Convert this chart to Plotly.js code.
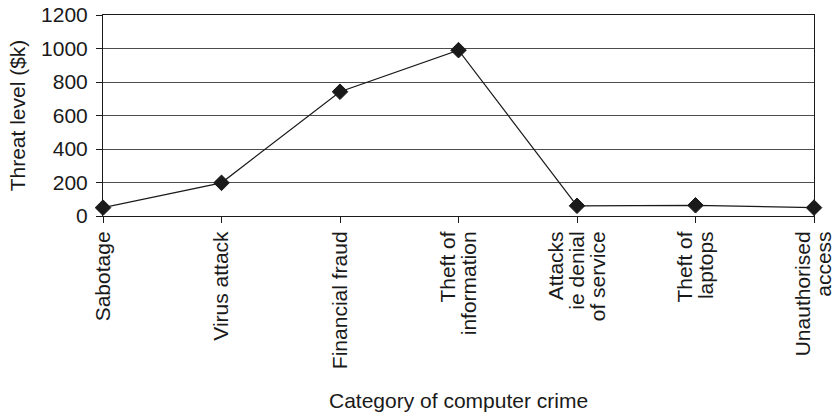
<!DOCTYPE html>
<html>
<head>
<meta charset="utf-8">
<script src="https://cdn.plot.ly/plotly-3.0.1.min.js"></script>
<style>
  html, body { margin: 0; padding: 0; background: #fff; }
  #chart { width: 835px; height: 414px; }
</style>
</head>
<body>
<div id="chart"></div>
<script>
// Crime categories along the x axis (line breaks as printed)
const categories = [
  "Sabotage",
  "Virus attack",
  "Financial fraud",
  "Theft of<br>information",
  "Attacks<br>ie denial<br>of service",
  "Theft of<br>laptops",
  "Unauthorised<br>access"
];
// Threat level in $k for each category
const threatLevel = [50, 198, 742, 990, 61, 64, 50];
const yTicks = [0, 200, 400, 600, 800, 1000, 1200];

const FONT = "Liberation Sans, Arial, sans-serif";
const INK = "#1a1a1a";
const W = 835, H = 414;
const M = { l: 103, r: 21, t: 15, b: 198 };

const trace = {
  type: "scatter",
  mode: "lines+markers",
  x: categories.map((_, i) => i),
  y: threatLevel,
  line: { color: INK, width: 1.2 },
  marker: { symbol: "diamond", size: 12, color: INK, line: { color: INK, width: 1 } },
  cliponaxis: false,
  hoverinfo: "skip"
};

const layout = {
  width: W,
  height: H,
  margin: M,
  paper_bgcolor: "#fff",
  plot_bgcolor: "#fff",
  showlegend: false,
  font: { family: FONT, size: 21, color: INK },
  xaxis: {
    range: [0, categories.length - 1],
    tickmode: "array",
    tickvals: categories.map((_, i) => i),
    ticktext: categories,
    tickangle: -90,
    ticks: "outside",
    ticklen: 6,
    tickcolor: INK,
    ticklabeloverflow: "allow",
    tickfont: { family: FONT, size: 21, color: INK },
    showgrid: false,
    zeroline: false,
    showline: true,
    linecolor: INK,
    linewidth: 1,
    mirror: true,
    automargin: false
  },
  yaxis: {
    range: [0, 1200],
    tickmode: "array",
    tickvals: yTicks,
    ticktext: yTicks.map(String),
    ticks: "outside",
    ticklen: 6,
    tickcolor: INK,
    ticklabelstandoff: 4,
    ticklabeloverflow: "allow",
    tickfont: { family: FONT, size: 21, color: INK },
    showgrid: true,
    gridcolor: "#4d4d4d",
    gridwidth: 1,
    zeroline: false,
    showline: true,
    linecolor: INK,
    linewidth: 1,
    mirror: true,
    automargin: false,
    title: { text: "Threat level ($k)", font: { family: FONT, size: 21, color: INK }, standoff: 9 }
  },
  annotations: [{
    text: "Category of computer crime",
    xref: "paper", yref: "paper",
    x: 0.5,
    y: (H - M.b - 400) / (H - M.b - M.t),
    xanchor: "center", yanchor: "middle",
    showarrow: false,
    font: { family: FONT, size: 21, color: INK }
  }]
};

// Tighten the spacing between lines of the multi-line category labels
// to one em, keeping each label block centred on its tick.
function tightenTickLines(gd) {
  const SPACING = 1.0, PLOTLY_SPACING = 1.3;
  gd.querySelectorAll(".xtick text").forEach(t => {
    const lines = t.querySelectorAll("tspan.line");
    if (lines.length < 2) return;
    lines.forEach((ln, k) => ln.setAttribute("dy", (k * SPACING) + "em"));
    const tr = t.getAttribute("transform") || "";
    const fixed = tr.replace(/translate\(0,\s*(-?[\d.]+)\)\s*$/, (m, v) =>
      "translate(0," + (parseFloat(v) * SPACING / PLOTLY_SPACING) + ")");
    t.setAttribute("transform", fixed);
  });
}

Plotly.newPlot("chart", [trace], layout, { displayModeBar: false, staticPlot: true })
  .then(tightenTickLines);
</script>
</body>
</html>
